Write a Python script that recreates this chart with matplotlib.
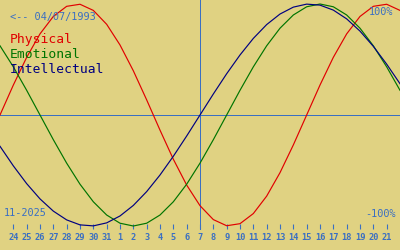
import numpy as np
import matplotlib
matplotlib.use("Agg")
import matplotlib.pyplot as plt

# Days shown (Oct 23 2025 .. Nov 22 2025); today = Nov 7
day_labels = ["23", "24", "25", "26", "27", "28", "29", "30", "31",
              "1", "2", "3", "4", "5", "6", "7", "8", "9", "10", "11",
              "12", "13", "14", "15", "16", "17", "18", "19", "20", "21", "22"]
today_label = "7"

physical = [0.0, 0.2698, 0.5196, 0.7308, 0.8879, 0.9791, 0.9977, 0.9423, 0.8170,
            0.6310, 0.3984, 0.1362, -0.1362, -0.3984, -0.6310, -0.8170, -0.9423,
            -0.9977, -0.9791, -0.8879, -0.7308, -0.5196, -0.2698, 0.0, 0.2698,
            0.5196, 0.7308, 0.8879, 0.9791, 0.9977, 0.9423]
emotional = [0.6235, 0.4339, 0.2225, 0.0, -0.2225, -0.4339, -0.6235, -0.7818, -0.9010,
             -0.9749, -1.0, -0.9749, -0.9010, -0.7818, -0.6235, -0.4339, -0.2225,
             0.0, 0.2225, 0.4339, 0.6235, 0.7818, 0.9010, 0.9749, 1.0, 0.9749,
             0.9010, 0.7818, 0.6235, 0.4339, 0.2225]
intellectual = [-0.2817, -0.4582, -0.6182, -0.7557, -0.8660, -0.9450, -0.9898, -0.9989,
                -0.9718, -0.9096, -0.8146, -0.6901, -0.5406, -0.3717, -0.1893, 0.0,
                0.1893, 0.3717, 0.5406, 0.6901, 0.8146, 0.9096, 0.9718, 0.9989,
                0.9898, 0.9450, 0.8660, 0.7557, 0.6182, 0.4582, 0.2817]

birth_text = "<-- 04/07/1993"
month_text = "11-2025"
series_names = ["Physical", "Emotional", "Intellectual"]

BG = "#E0D282"
BLUE = "#3A6FC2"
RED = "#E00000"
GREEN = "#007400"
NAVY = "#000080"

W, H = 400, 250
fig = plt.figure(figsize=(W / 100, H / 100), dpi=100, facecolor=BG)
ax = fig.add_axes([0, 0, 1, 1], facecolor=BG)

x = np.arange(len(day_labels))
ax.set_xlim(0, len(day_labels) - 1)
# center line at 115 px from top, amplitude 111 px
amp = 111.0
ymin, ymax = -(H - 115) / amp, 115 / amp
ax.set_ylim(ymin, ymax)
tick_base = -(229 - 115) / amp

ti = day_labels.index(today_label)
ax.axhline(0, color=BLUE, lw=0.72, antialiased=False, zorder=1)
ax.vlines(x[ti], tick_base, ymax, color=BLUE, lw=0.72, antialiased=False, zorder=1)

ax.plot(x, physical, color=RED, lw=0.85, zorder=3)
ax.plot(x, emotional, color=GREEN, lw=0.85, zorder=3)
ax.plot(x, intellectual, color=NAVY, lw=0.85, zorder=3)

# tick marks / labels
for s in ax.spines.values():
    s.set_visible(False)
ax.spines["bottom"].set_position(("data", tick_base))
ax.set_xticks(x[1:-1])
ax.set_xticklabels(day_labels[1:-1], family="DejaVu Sans Mono", fontsize=6.2,
                   color=BLUE, fontweight="bold")
ax.tick_params(axis="x", direction="in", length=3.6, width=0.8, color=BLUE, pad=2.8)
ax.set_yticks([])


def ftext(px, py, s, color, size, ha="left"):
    fig.text(px / W, 1 - py / H, s, color=color, fontsize=size, ha=ha, va="baseline",
             family="DejaVu Sans Mono")


ftext(10, 20, birth_text, BLUE, 7.4)
ftext(10, 43, series_names[0], RED, 9.4)
ftext(10, 58, series_names[1], GREEN, 9.4)
ftext(10, 73, series_names[2], NAVY, 9.4)
ftext(393, 15, "100%", BLUE, 7.4, ha="right")
ftext(396, 217, "-100%", BLUE, 7.4, ha="right")
ftext(4, 216, month_text, BLUE, 7.4)

fig.savefig("out.png", dpi=100, facecolor=BG)
